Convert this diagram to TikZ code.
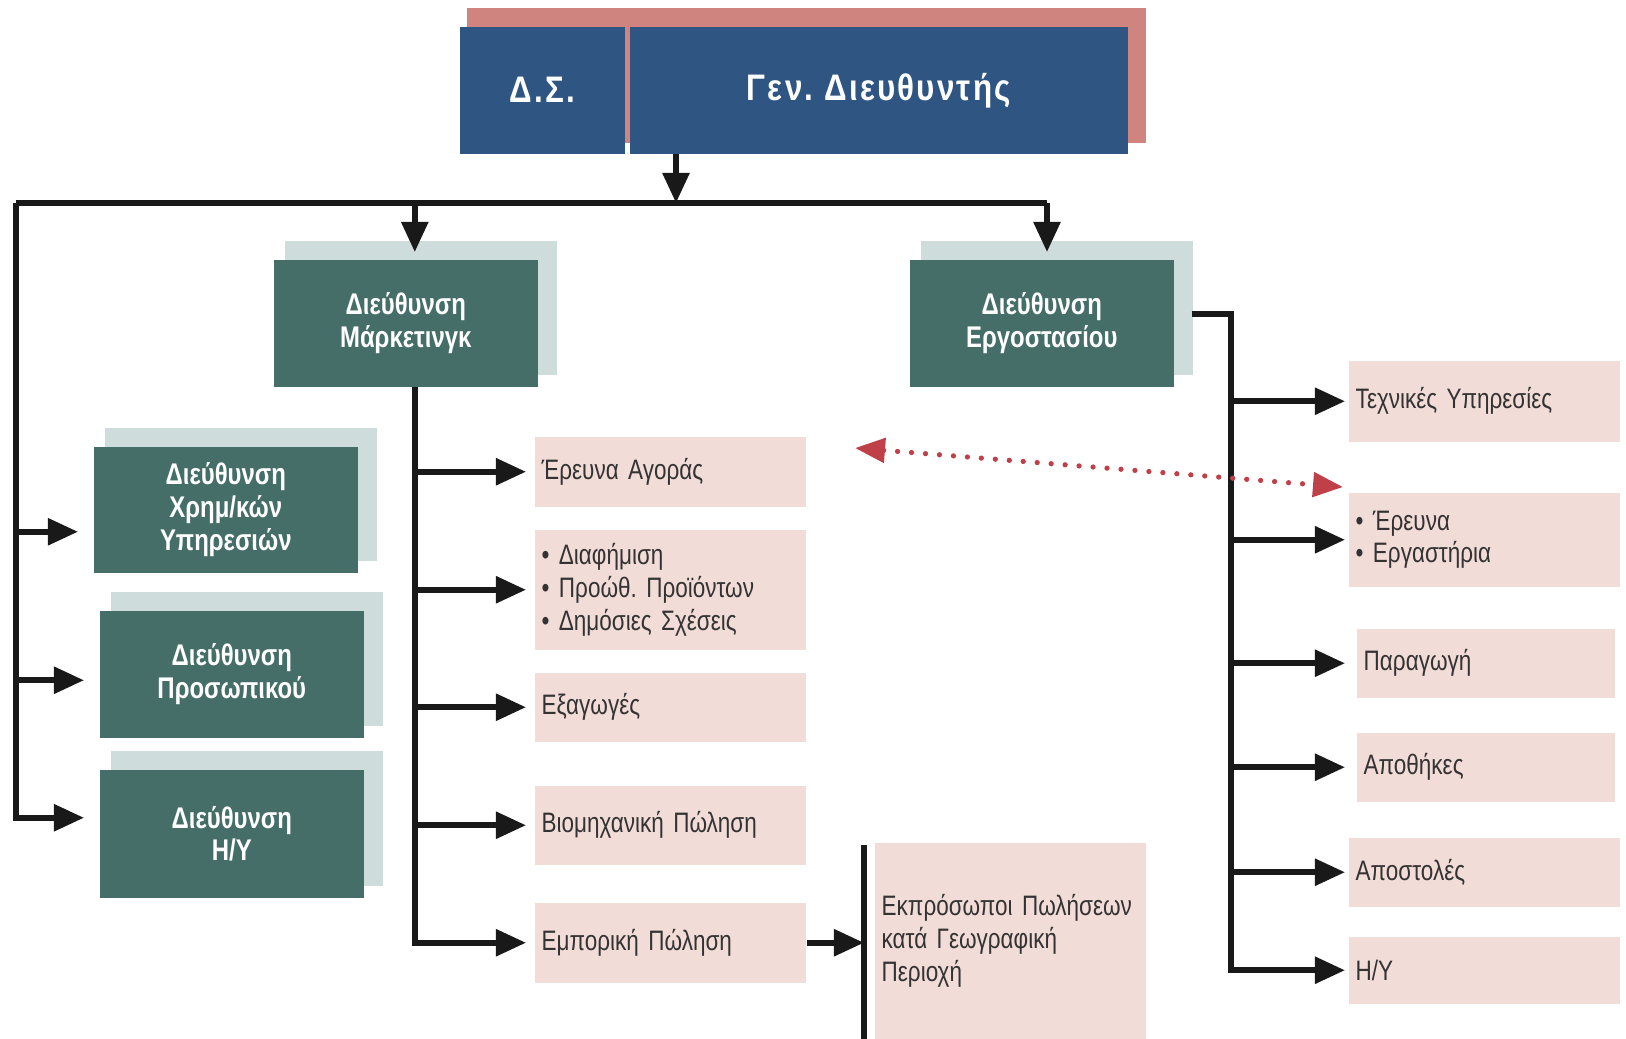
\documentclass[tikz,border=0pt]{standalone}
\usepackage{fontspec}
\setmainfont{Liberation Sans}[FakeStretch=0.8]
\newfontfamily\headfont{Liberation Sans}[FakeStretch=0.85, LetterSpace=6]
\usetikzlibrary{arrows.meta, positioning, calc, backgrounds}

\definecolor{ceoblue}{HTML}{2F5582}
\definecolor{ceoshadow}{HTML}{D08480}
\definecolor{deptgreen}{HTML}{466E69}
\definecolor{deptshadow}{HTML}{CFDCDC}
\definecolor{unitpink}{HTML}{F2DCD8}
\definecolor{linkred}{HTML}{C0404A}

\frenchspacing

\begin{document}
\begin{tikzpicture}[
    x=0.01cm, y=-0.01cm,
    font=\fontsize{8}{9.3}\selectfont,
    >={Triangle[length=0.3cm, width=0.26cm]},
    % top of the chart
    topbox/.style={
        rectangle,
        fill=ceoblue,
        text=white,
        anchor=north west,
        inner sep=0pt,
        minimum height=1.27cm,
        font=\headfont\fontsize{10.5}{12}\selectfont\bfseries
    },
    % directorates
    dept/.style={
        rectangle,
        fill=deptgreen,
        text=white,
        anchor=north west,
        align=center,
        inner sep=0pt,
        minimum width=2.64cm,
        minimum height=1.27cm,
        font=\fontsize{8.5}{9.3}\selectfont\bfseries
    },
    % departments
    unit/.style={
        rectangle,
        fill=unitpink,
        text=black!80,
        anchor=north west,
        align=left,
        inner xsep=0.07cm,
        inner ysep=0pt,
        text width=2.57cm
    },
    wire/.style={line width=1.6pt, black!90},
    arr/.style={wire, ->}
]
    \useasboundingbox (0,0) rectangle (1626,1038);

    % --- NODES ---

    % board and general manager
    \node[topbox, minimum width=1.65cm] (board) at (459,26) {Δ.Σ.};
    \node[topbox, minimum width=4.98cm] (ceo) at (629,26) {Γεν. Διευθυντής};

    % directorates
    \node[dept] (mkt) at (273,259) {Διεύθυνση\\Μάρκετινγκ};
    \node[dept] (fab) at (909,259) {Διεύθυνση\\Εργοστασίου};
    \node[dept, minimum height=1.26cm] (fin) at (93,446) {Διεύθυνση\\Χρημ/κών\\Υπηρεσιών};
    \node[dept] (staff) at (99,610) {Διεύθυνση\\Προσωπικού};
    \node[dept, minimum height=1.28cm] (it) at (99,769) {Διεύθυνση\\Η/Υ};

    % marketing departments
    \node[unit, minimum height=0.70cm] (survey) at (534,436) {Έρευνα Αγοράς};
    \node[unit, minimum height=1.20cm] (promo) at (534,529) {• Διαφήμιση\\• Προώθ. Προϊόντων\\• Δημόσιες Σχέσεις};
    \node[unit, minimum height=0.69cm] (export) at (534,672) {Εξαγωγές};
    \node[unit, minimum height=0.79cm] (indsales) at (534,785) {Βιομηχανική Πώληση};
    \node[unit, minimum height=0.80cm] (sales) at (534,902) {Εμπορική Πώληση};
    \node[unit, minimum height=1.96cm] (rep) at (874,842) {Εκπρόσωποι Πωλήσεων\\κατά Γεωγραφική\\Περιοχή};

    % factory departments
    \node[unit, minimum height=0.81cm] (tech) at (1348,360) {Τεχνικές Υπηρεσίες};
    \node[unit, minimum height=0.94cm] (lab) at (1348,492) {• Έρευνα\\• Εργαστήρια};
    \node[unit, minimum height=0.69cm, text width=2.44cm] (prod) at (1356,628) {Παραγωγή};
    \node[unit, minimum height=0.69cm, text width=2.44cm] (store) at (1356,732) {Αποθήκες};
    \node[unit, minimum height=0.69cm] (ship) at (1348,837) {Αποστολές};
    \node[unit, minimum height=0.67cm] (pc) at (1348,936) {Η/Υ};

    % shadows behind the boxes
    \begin{scope}[on background layer]
        \fill[ceoshadow] ($(board.north west)+(8,-18)$) rectangle ($(ceo.south east)+(17,-11)$);
        \foreach \d in {mkt, fab, fin, staff, it}
            \fill[deptshadow] ($(\d.north west)+(12,-18)$) rectangle ($(\d.south east)+(18,-12)$);
    \end{scope}

    % --- CONNECTORS ---

    \coordinate (busL) at (16,203);
    \coordinate (busR) at (1047,203);
    \coordinate (ceoout) at ($(ceo.south west)+(47,0)$);
    \coordinate (mktx) at ($(mkt.south)+(9,0)$);
    \coordinate (tipM) at (526,0);
    \coordinate (tipR) at (1345,0);
    \coordinate (fabout) at ($(fab.east)+(17,-9)$);
    \coordinate (fabbus) at (1231,0);
    \coordinate (repbar) at ($(rep.north west)+(-10,3)$);

    % general manager to the bus
    \draw[arr] (ceoout) -- (ceoout |- busL);
    \draw[wire] (busL) -- (busR);
    \draw[arr, shorten >=0.07cm] (mktx |- busL) -- (mktx |- mkt.north);
    \draw[arr, shorten >=0.07cm] (busR) -- (busR |- fab.north);

    % left column of directorates
    \coordinate (finin) at ($(fin.west)+(-15,22)$);
    \coordinate (staffin) at ($(staff.west)+(-15,6)$);
    \coordinate (itin) at ($(it.west)+(-15,-16)$);
    \draw[arr] (busL) |- (itin);
    \draw[arr] (busL |- finin) -- (finin);
    \draw[arr] (busL |- staffin) -- (staffin);

    % marketing
    \draw[arr] (mktx |- mkt.south) |- (sales.west -| tipM);
    \foreach \u in {survey, promo, export, indsales}
        \draw[arr] (\u.west -| mktx) -- (\u.west -| tipM);
    \draw[wire] (repbar) -- (repbar |- rep.south);
    \draw[arr] (sales.east) -- (sales.east -| repbar);

    % factory
    \draw[arr] (fabout) -| (pc.west -| fabbus) -- (pc.west -| tipR);
    \foreach \u in {tech, lab, prod, store, ship}
        \draw[arr] (\u.west -| fabbus) -- (\u.west -| tipR);

    % research link between market survey and labs
    \coordinate (linkL) at (855,448);
    \coordinate (linkR) at (1343,487);
    \draw[linkred, line width=1.5pt, line cap=round, dash pattern=on 0pt off 0.14cm,
        {Triangle[length=0.3cm, width=0.24cm]}-{Triangle[length=0.3cm, width=0.24cm]}] (linkL) -- (linkR);

\end{tikzpicture}
\end{document}
